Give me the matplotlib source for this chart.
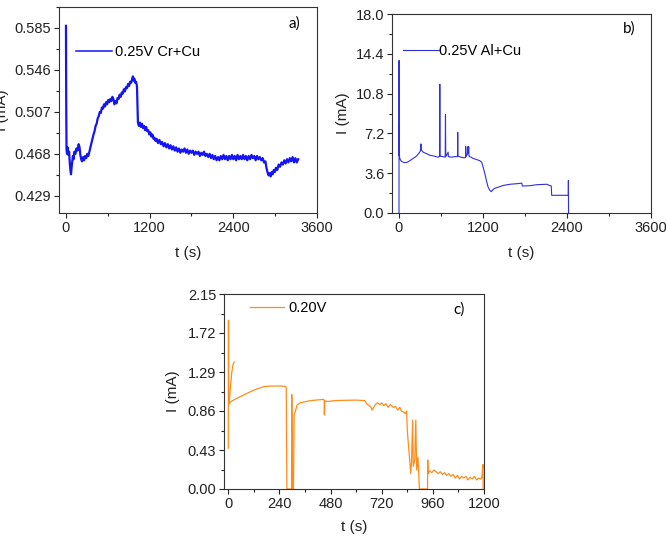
import numpy as np
import matplotlib
matplotlib.use('Agg')
import matplotlib.pyplot as plt
from matplotlib.ticker import MultipleLocator, FormatStrFormatter

plt.rcParams['font.family'] = ['Liberation Sans', 'DejaVu Sans']

# a) 0.25V Cr+Cu
t_a = [0, 3, 8, 15, 25, 35, 45, 55, 65, 72, 80, 90, 100, 110, 120, 135, 150, 165,
       182, 195, 206, 218, 230, 245, 260, 275, 290, 305, 320, 336, 350, 365, 380,
       395, 410, 425, 440, 455, 470, 485, 500, 515, 530, 545, 560, 575, 590, 605,
       620, 635, 650, 665, 680, 695, 710, 725, 740, 755, 770, 785, 800, 815, 830,
       845, 860, 875, 890, 905, 920, 935, 950, 960, 970, 980, 994, 1005, 1018,
       1025, 1032, 1045, 1060, 1075, 1090, 1105, 1120, 1135, 1150, 1165, 1180,
       1195, 1210, 1225, 1240, 1255, 1270, 1285, 1300, 1320, 1340, 1360, 1380,
       1400, 1420, 1440, 1460, 1480, 1500, 1520, 1540, 1560, 1580, 1600, 1620,
       1640, 1660, 1680, 1700, 1720, 1740, 1760, 1780, 1800, 1820, 1840, 1860,
       1880, 1900, 1920, 1940, 1960, 1980, 2000, 2020, 2040, 2060, 2080, 2100,
       2120, 2140, 2160, 2180, 2200, 2220, 2240, 2260, 2280, 2300, 2320, 2340,
       2360, 2380, 2400, 2420, 2440, 2460, 2480, 2500, 2520, 2540, 2560, 2580,
       2600, 2620, 2640, 2660, 2680, 2700, 2720, 2740, 2760, 2780, 2800, 2820,
       2840, 2860, 2875, 2890, 2905, 2920, 2935, 2950, 2965, 2980, 2995, 3010,
       3030, 3050, 3070, 3090, 3110, 3130, 3150, 3170, 3190, 3210, 3230, 3250,
       3270, 3290, 3310, 3330]
i_a = [0.587, 0.520, 0.472, 0.468, 0.474, 0.467, 0.470, 0.459, 0.452, 0.449,
       0.455, 0.461, 0.466, 0.463, 0.470, 0.468, 0.473, 0.471, 0.477, 0.474,
       0.467, 0.463, 0.461, 0.465, 0.462, 0.466, 0.464, 0.468, 0.466, 0.470,
       0.474, 0.478, 0.482, 0.486, 0.489, 0.494, 0.496, 0.501, 0.503, 0.507,
       0.506, 0.511, 0.510, 0.514, 0.512, 0.516, 0.514, 0.518, 0.516, 0.519,
       0.517, 0.521, 0.519, 0.514, 0.517, 0.515, 0.520, 0.519, 0.523, 0.521,
       0.525, 0.524, 0.528, 0.526, 0.530, 0.529, 0.533, 0.531, 0.535, 0.534,
       0.538, 0.540, 0.536, 0.538, 0.534, 0.535, 0.531, 0.515, 0.497, 0.494,
       0.497, 0.493, 0.496, 0.492, 0.494, 0.490, 0.493, 0.489, 0.490, 0.486,
       0.488, 0.484, 0.486, 0.482, 0.483, 0.480, 0.482, 0.478, 0.481, 0.477,
       0.479, 0.475, 0.478, 0.474, 0.477, 0.473, 0.476, 0.472, 0.475, 0.471,
       0.474, 0.470, 0.473, 0.469, 0.472, 0.470, 0.473, 0.469, 0.472, 0.468,
       0.471, 0.469, 0.471, 0.467, 0.470, 0.468, 0.470, 0.466, 0.469, 0.467,
       0.470, 0.466, 0.468, 0.465, 0.468, 0.464, 0.467, 0.463, 0.466, 0.462,
       0.465, 0.462, 0.466, 0.463, 0.467, 0.463, 0.466, 0.462, 0.466, 0.463,
       0.467, 0.463, 0.466, 0.462, 0.467, 0.463, 0.466, 0.463, 0.467, 0.463,
       0.466, 0.462, 0.466, 0.463, 0.467, 0.464, 0.466, 0.462, 0.466, 0.463,
       0.465, 0.462, 0.464, 0.460, 0.461, 0.455, 0.451, 0.448, 0.450, 0.447,
       0.451, 0.449, 0.453, 0.451, 0.455, 0.453, 0.458, 0.456, 0.460, 0.458,
       0.462, 0.459, 0.463, 0.460, 0.464, 0.461, 0.465, 0.460, 0.464, 0.460,
       0.463]

# b) 0.25V Al+Cu
t_b = [0, 1, 2, 3, 5, 9, 20, 40, 60, 85, 120, 160, 203, 250, 290, 305, 313, 320,
       346, 400, 441, 500, 550, 580, 583, 586, 620, 660, 664, 668, 702, 705,
       750, 800, 836, 839, 842, 880, 920, 950, 953, 957, 977, 983, 990, 996,
       1000, 1005, 1030, 1057, 1100, 1152, 1180, 1200, 1225, 1247, 1270, 1294,
       1318, 1340, 1365, 1437, 1493, 1588, 1683, 1754, 1763, 1872, 1967, 2110,
       2157, 2175, 2181, 2250, 2350, 2418, 2420, 2422]
i_b = [0.0, 13.8, 5.2, 8.1, 5.4, 5.0, 4.8, 4.65, 4.6, 4.55, 4.6, 4.75, 4.94,
       5.15, 5.45, 5.6, 6.25, 5.7, 5.5, 5.35, 5.22, 5.15, 5.05, 5.1, 11.65,
       5.15, 5.1, 5.05, 8.9, 5.1, 5.5, 5.1, 5.05, 5.1, 5.1, 7.3, 5.15, 5.05,
       5.0, 5.0, 6.0, 5.1, 5.3, 6.0, 5.4, 6.0, 5.2, 5.1, 5.05, 4.94, 4.85,
       4.74, 4.6, 4.19, 3.6, 2.98, 2.4, 2.08, 1.93, 2.1, 2.23, 2.38, 2.5, 2.6,
       2.65, 2.7, 2.44, 2.47, 2.56, 2.6, 2.47, 2.45, 1.6, 1.6, 1.6, 1.6, 2.95,
       0.0]

# c) 0.20V (first piece is a separate short branch near t=0)
t_c = [0, 1, 2, np.nan, 4, 6, 9, 16, 22, 28, np.nan,
       3, 20, 41, 72, 119, 166, 197, 252, 268, 272, 275, 297, 298, 300, 302,
       306, 309, 314, 323, 338, 385, 420, 447, 450, 451, 453, 470, 500, 550,
       600, 640, 650, 660, 670, 675, 680, 690, 700, 712, 720, 730, 740, 750,
       760, 775, 785, 795, 805, 812, 822, 830, 837, 840, 845, 850, 856, 860,
       865, 868, 875, 880, 884, 890, 895, 897, 935, 936, 938, 945, 955, 965,
       975, 985, 995, 1005, 1015, 1025, 1035, 1045, 1055, 1065, 1075, 1085,
       1095, 1105, 1115, 1125, 1135, 1145, 1155, 1165, 1175, 1185, 1190, 1195,
       1196]
i_c = [0.45, 1.86, 0.93, np.nan, 0.945, 1.0, 1.09, 1.275, 1.37, 1.40, np.nan,
       0.945, 0.975, 1.0, 1.036, 1.09, 1.128, 1.135, 1.135, 1.13, 1.12, 0.0,
       0.0, 1.04, 0.5, 0.0,
       0.0, 0.82, 0.85, 0.926, 0.951, 0.974, 0.982, 0.988, 0.98, 0.816, 0.97,
       0.965, 0.975, 0.978,
       0.98, 0.975, 0.94, 0.92, 0.90, 0.87, 0.89, 0.93, 0.95, 0.93, 0.95,
       0.92, 0.94, 0.90,
       0.93, 0.90, 0.91, 0.87, 0.90, 0.86, 0.85, 0.83, 0.86, 0.65, 0.50,
       0.36, 0.17, 0.30,
       0.76, 0.25, 0.32, 0.76, 0.21, 0.35, 0.10, 0.0, 0.0, 0.32, 0.17, 0.20,
       0.18, 0.21,
       0.19, 0.17, 0.19, 0.16, 0.18, 0.15, 0.17, 0.14, 0.16, 0.12, 0.15, 0.11,
       0.14, 0.12, 0.14, 0.10, 0.13, 0.11, 0.14, 0.10, 0.12, 0.11, 0.13, 0.27,
       0.0]

a_yticks = [0.429, 0.468, 0.507, 0.546, 0.585]
b_yticks = [0.0, 3.6, 7.2, 10.8, 14.4, 18.0]
c_yticks = [0.0, 0.43, 0.86, 1.29, 1.72, 2.15]

fig = plt.figure(figsize=(6.66, 5.44), dpi=100)
W, H = 666, 544


def make_axes(l, t, r, b):
    return fig.add_axes([l / W, 1 - b / H, (r - l) / W, (b - t) / H])


def style(ax, xmajor, xlim, yticks, ymajor, ylim, fmt, ylab_x, xlab_y):
    ax.set_xlim(*xlim)
    ax.set_ylim(*ylim)
    ax.xaxis.set_major_locator(MultipleLocator(xmajor))
    ax.xaxis.set_minor_locator(MultipleLocator(xmajor / 2))
    ax.set_yticks(yticks)
    ax.yaxis.set_minor_locator(MultipleLocator(ymajor / 2))
    ax.yaxis.set_major_formatter(FormatStrFormatter(fmt))
    ax.tick_params(which='both', direction='out', top=False, right=False,
                   labelsize=10.5, colors='#222222', width=0.8)
    ax.tick_params(which='major', length=3.5, pad=2)
    ax.tick_params(which='minor', length=2)
    for s in ax.spines.values():
        s.set_color('#333333')
        s.set_linewidth(0.8)
    ax.set_xlabel('t (s)', fontsize=11, color='#222222')
    ax.set_ylabel('I (mA)', fontsize=11, color='#222222')
    ax.yaxis.set_label_coords(ylab_x, 0.5)
    ax.xaxis.set_label_coords(0.5, xlab_y)


# panel a
ax1 = make_axes(59, 7, 317, 213)
ax1.plot(t_a, i_a, color='#1414f5', lw=1.6, label='0.25V Cr+Cu')
style(ax1, 1200, (-100, 3600), a_yticks, 0.039, (0.413, 0.6045), '%.3f',
      -0.195, -0.16)
ax1.legend(loc='center left', bbox_to_anchor=(0.066, 0.782), frameon=False,
           borderpad=0, borderaxespad=0, handlelength=2.45, handletextpad=0.2,
           fontsize=10.5)
ax1.get_legend().get_lines()[0].set_linewidth(1.1)
ax1.text(0.911, 0.922, 'a)', transform=ax1.transAxes, ha='center',
         va='center', fontsize=11, family='Lato')

# panel b
ax2 = make_axes(392, 14, 651, 213)
ax2.plot(t_b, i_b, color='#3030e0', lw=0.8, label='0.25V Al+Cu')
style(ax2, 1200, (-100, 3600), b_yticks, 3.6, (0, 18), '%.1f',
      -0.162, -0.165)
ax2.legend(loc='center left', bbox_to_anchor=(0.042, 0.814), frameon=False,
           borderpad=0, borderaxespad=0, handlelength=2.45, handletextpad=0.0,
           fontsize=10.5)
ax2.text(0.915, 0.925, 'b)', transform=ax2.transAxes, ha='center',
         va='center', fontsize=11, family='Lato')

# panel c
ax3 = make_axes(224, 294, 484, 489)
ax3.plot(t_c, i_c, color='#ff8c1a', lw=0.9, label='0.20V')
style(ax3, 240, (-20, 1200), c_yticks, 0.43, (0, 2.15), '%.2f',
      -0.169, -0.16)
ax3.legend(loc='center left', bbox_to_anchor=(0.1, 0.928), frameon=False,
           borderpad=0, borderaxespad=0, handlelength=2.3, handletextpad=0.35,
           fontsize=10.5)
ax3.text(0.904, 0.918, 'c)', transform=ax3.transAxes, ha='center',
         va='center', fontsize=11, family='Lato')

fig.savefig('out.png', dpi=100)
